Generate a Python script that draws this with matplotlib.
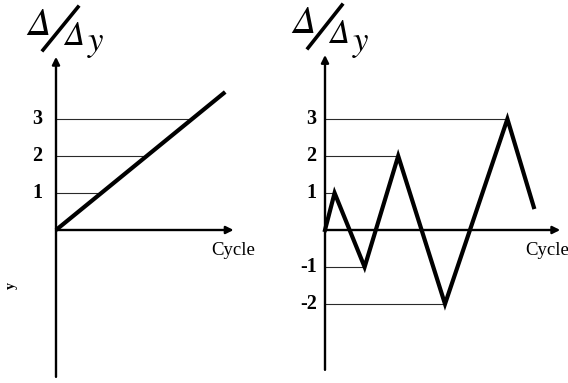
import numpy as np
import matplotlib
matplotlib.use('Agg')
import matplotlib.pyplot as plt

plt.rcParams['font.family'] = ['Liberation Serif', 'DejaVu Serif']

# monotonic loading: drift ratio grows with every cycle
mono_cycle = [0, 14.1]
mono_ratio = [0, 3.73]
mono_levels = [1, 2, 3]

# cyclic loading: reversed amplitudes 1, -1, 2, -2, 3
cyc_cycle = [0, 0.8, 3.3, 6.1, 10.0, 15.2, 17.4]
cyc_ratio = [0, 1, -1, 2, -2, 3, 0.62]
cyc_levels = [1, -1, 2, -2, 3]
cyc_peaks = [1, 2, 3, 4, 5]  # index of the turning point for each level

W, H = 568, 383
PX_X, PX_Y = 12.0, 37.0  # pixels per cycle unit / per ratio unit
ORIGIN_Y = 230

fig = plt.figure(figsize=(W / 100, H / 100), dpi=100)


def make_panel(left_px, width_px, origin_x):
    ax = fig.add_axes([left_px / W, 0, width_px / W, 1])
    ax.set_xlim((left_px - origin_x) / PX_X, (left_px + width_px - origin_x) / PX_X)
    ax.set_ylim(-(H - ORIGIN_Y) / PX_Y, ORIGIN_Y / PX_Y)
    ax.axis('off')
    return ax


def draw_axes(ax, y_bottom, y_top, x_end):
    arrow = dict(arrowstyle='-|>', lw=1.7, color='black', mutation_scale=11,
                 shrinkA=0, shrinkB=0)
    ax.annotate('', xy=(0, y_top), xytext=(0, y_bottom), arrowprops=arrow)
    ax.annotate('', xy=(x_end, 0), xytext=(0, 0), arrowprops=arrow)


def tick_label(ax, level, gap):
    ax.annotate(str(level), xy=(0, level), xytext=(-gap, 0), textcoords='offset points',
                ha='right', va='center', fontsize=14.5, fontweight='bold')


def title(x0, slash, x1, xs, base0, base1, bases):
    # Δ / Δ_y written as stacked pieces in figure pixels
    greek = dict(family='STIXGeneral', style='italic', ha='left', va='baseline')
    fig.text(x0 / W, 1 - base0 / H, 'Δ', fontsize=28, **greek)
    fig.add_artist(plt.Line2D([slash[0] / W, slash[2] / W], [1 - slash[1] / H, 1 - slash[3] / H],
                              lw=2.6, color='black'))
    fig.text(x1 / W, 1 - base1 / H, 'Δ', fontsize=24, **greek)
    fig.text(xs / W, 1 - bases / H, 'y', fontsize=25, **greek)


# left panel - monotonic
ax1 = make_panel(0, 284, 56)
for lv in mono_levels:
    x_hit = np.interp(lv, mono_ratio, mono_cycle)
    ax1.plot([0, x_hit], [lv, lv], color='#2a2a2a', lw=0.8)
    tick_label(ax1, lv, 10)
draw_axes(ax1, -3.97, 4.68, 14.8)
ax1.plot(mono_cycle, mono_ratio, color='black', lw=3.0, solid_capstyle='butt')
ax1.annotate('Cycle', xy=(12.9, 0), xytext=(0, -15), textcoords='offset points',
             ha='left', va='center', fontsize=13.5)
ax1.text(-3.75, -1.5, 'y', fontsize=10, fontweight='bold', rotation=90, ha='center', va='center')
title(27, (43, 50, 78, 7), 64, 88, 35, 45, 51)

# right panel - cyclic
ax2 = make_panel(284, 284, 325)
for lv, i in zip(cyc_levels, cyc_peaks):
    ax2.plot([0, cyc_cycle[i]], [lv, lv], color='#2a2a2a', lw=0.8)
    tick_label(ax2, lv, 6)
draw_axes(ax2, -3.78, 4.73, 19.6)
ax2.plot(cyc_cycle, cyc_ratio, color='black', lw=3.0, solid_joinstyle='miter')
ax2.annotate('Cycle', xy=(16.7, 0), xytext=(0, -15), textcoords='offset points',
             ha='left', va='center', fontsize=13.5)
title(292, (308, 48, 342, 5), 329, 353, 33, 43, 51)

fig.savefig('out.png', dpi=100)
